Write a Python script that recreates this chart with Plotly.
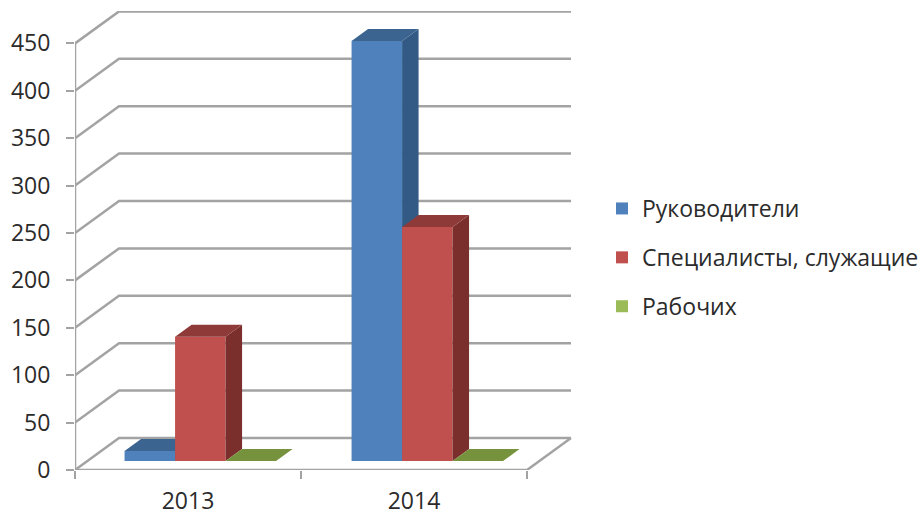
import plotly.graph_objects as go

categories = ["2013", "2014"]
series_names = ["Руководители", "Специалисты, служащие", "Рабочих"]
rukovoditeli = [10.5, 443]
specialisty = [131, 247]
rabochie = [0, 0]
y_ticks = [0, 50, 100, 150, 200, 250, 300, 350, 400, 450]

series_values = [rukovoditeli, specialisty, rabochie]
front_colors = ["#4F81BD", "#C0504D", "#9BBB59"]
top_colors = ["#3B6491", "#8E3A38", "#76923C"]
side_colors = ["#335A85", "#7A2F2D", "#5F7530"]
GRID = "#A3A3A3"
TEXT = "#2B2B2B"
FONT = "Open Sans"
FS = 23

# Oblique projection: depth 0 = front plane, depth 1 = back wall (axis units)
PX_PER_CAT = 226.0
PX_PER_VAL = 0.948
DX = 44 / PX_PER_CAT
DY = 32 / PX_PER_VAL
D_FRONT, D_BACK = 0.28, 0.655
BAR_W = 50.5 / PX_PER_CAT
X_NUDGE = 1 / PX_PER_CAT
n_cat = len(categories)


def proj(x, v, d):
    return x + d * DX, v + d * DY


def poly(pts, color, xa="x", ya="y"):
    xs = [p[0] for p in pts] + [pts[0][0]]
    ys = [p[1] for p in pts] + [pts[0][1]]
    return go.Scatter(x=xs, y=ys, mode="lines", fill="toself", fillcolor=color,
                      line=dict(width=0, color=color), hoverinfo="skip",
                      showlegend=False, cliponaxis=False, xaxis=xa, yaxis=ya)


def line(xs, ys):
    return go.Scatter(x=xs, y=ys, mode="lines", line=dict(color=GRID, width=2.5),
                      hoverinfo="skip", showlegend=False, cliponaxis=False)


def bar_left(ci, si):
    return ci + 0.5 + D_FRONT * DX + (si - 1.5) * BAR_W + X_NUDGE * ci


def top_face(ci, si, color, xa="x", ya="y"):
    x0 = bar_left(ci, si)
    v = series_values[si][ci]
    base = lambda x, d: (x + (d - D_FRONT) * DX, v + d * DY)
    return poly([base(x0, D_FRONT), base(x0 + BAR_W, D_FRONT),
                 base(x0 + BAR_W, D_BACK), base(x0, D_BACK)], color, xa, ya)


def side_face(ci, si, color, xa="x", ya="y"):
    x1 = bar_left(ci, si) + BAR_W
    v = series_values[si][ci]
    dxb = (D_BACK - D_FRONT) * DX
    return poly([(x1, D_FRONT * DY), (x1 + dxb, D_BACK * DY),
                 (x1 + dxb, v + D_BACK * DY), (x1, v + D_FRONT * DY)], color, xa, ya)


fig = go.Figure()

# walls and floor
for v in y_ticks:
    a = proj(0, v, 0)
    b = proj(0, v, 1)
    c = proj(n_cat, v, 1)
    fig.add_trace(line([a[0], b[0], c[0]], [a[1], b[1], c[1]]))
e = proj(n_cat, 0, 1)
fig.add_trace(line([e[0], n_cat, 0], [e[1], 0, 0]))
fig.add_trace(line([0, 0], [y_ticks[0], y_ticks[-1]]))

# blue depth faces sit behind every front face
for ci in range(n_cat):
    fig.add_trace(side_face(ci, 0, side_colors[0]))
    fig.add_trace(top_face(ci, 0, top_colors[0]))

# front faces
for si, name in enumerate(series_names):
    fig.add_trace(go.Bar(
        x=[bar_left(ci, si) + BAR_W / 2 for ci in range(n_cat)],
        y=series_values[si],
        base=[D_FRONT * DY] * n_cat,
        width=BAR_W,
        name=name,
        legendgroup=name,
        marker=dict(color=front_colors[si], line=dict(width=0)),
        xaxis="x2", yaxis="y2",
    ))

# remaining depth faces
for ci in range(n_cat):
    fig.add_trace(side_face(ci, 1, side_colors[1], "x2", "y2"))
    fig.add_trace(top_face(ci, 1, top_colors[1], "x2", "y2"))
    fig.add_trace(top_face(ci, 2, top_colors[2], "x2", "y2"))

x_range = [0, 497 / PX_PER_CAT]
y_range = [0, 459 / PX_PER_VAL]

fig.update_layout(
    width=924, height=517, autosize=False,
    margin=dict(l=75, r=352, t=11, b=47, autoexpand=False),
    paper_bgcolor="white", plot_bgcolor="rgba(0,0,0,0)",
    barmode="overlay",
    font=dict(family=FONT, size=FS, color=TEXT),
    xaxis=dict(range=x_range, showgrid=False, zeroline=False, showline=False,
               automargin=False,
               tickvals=[i + 0.5 for i in range(n_cat)], ticktext=categories,
               ticks="", ticklabelstandoff=15,
               minor=dict(tickvals=list(range(n_cat + 1)), ticks="outside",
                          ticklen=8, tickwidth=2, tickcolor=GRID),
               tickfont=dict(family=FONT, size=FS, color=TEXT)),
    yaxis=dict(range=y_range, showgrid=False, zeroline=False, showline=False,
               automargin=False,
               tickvals=y_ticks, ticks="outside", ticklen=8, tickwidth=2,
               tickcolor=GRID, ticklabelstandoff=11,
               tickfont=dict(family=FONT, size=FS, color=TEXT)),
    xaxis2=dict(range=x_range, overlaying="x", visible=False),
    yaxis2=dict(range=y_range, overlaying="y", visible=False),
    legend=dict(x=602 / 924, xanchor="left", y=1 - 187 / 517, yanchor="top",
                xref="container", yref="container",
                font=dict(family=FONT, size=FS, color=TEXT),
                tracegroupgap=16, bgcolor="rgba(0,0,0,0)"),
)

fig.write_html("out.html", config={"displayModeBar": False},
               post_script="document.body.style.margin='0';document.documentElement.style.overflow='hidden';")
